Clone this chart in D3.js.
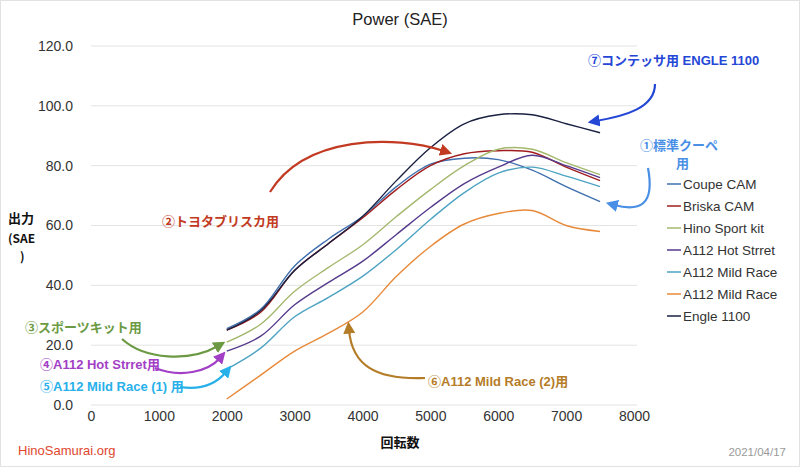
<!DOCTYPE html>
<html><head><meta charset="utf-8">
<script src="https://cdn.jsdelivr.net/npm/d3@7"></script>
<style>body{margin:0;background:#fff}svg{display:block}</style>
</head><body><svg id="c" width="800" height="467"></svg>
<script>
const rpm = [2000, 2500, 3000, 3500, 4000, 4500, 5000, 5500, 6000, 6500, 7000, 7500];
const seriesNames = ["Coupe CAM","Briska CAM","Hino Sport kit","A112 Hot Strret","A112 Mild Race","A112 Mild Race","Engle 1100"];
const coupeCam   = [25.5, 32, 46.5, 55.5, 63, 73, 80.5, 82.5, 82, 78.5, 73, 68];
const briskaCam  = [25, 31, 45, 54, 62.5, 72, 80, 84, 85, 84.5, 79.5, 75];
const hinoSport  = [21, 27, 38, 46, 53.5, 63, 72, 80, 85.5, 85.5, 81, 77];
const a112Hot    = [18, 23, 33.5, 41, 48, 57, 66, 74, 79.5, 83.5, 80, 76];
const a112Mild1  = [12, 19, 29.5, 36, 43, 52, 62, 71, 77.5, 79.5, 76.5, 73];
const a112Mild2  = [2, 10, 18, 24, 31, 43, 53, 60.5, 64, 65, 60, 58];
const engle1100  = [25, 31.5, 45, 54, 63, 75, 86, 94, 97, 97, 94, 91];
const seriesValues = [coupeCam, briskaCam, hinoSport, a112Hot, a112Mild1, a112Mild2, engle1100];
const colors = ["#3f6fae","#a11d1d","#a4b86e","#553a8c","#4da3c2","#e8893a","#1a2040"];
const yTicks = [0,20,40,60,80,100,120];
const xTicks = [0,1000,2000,3000,4000,5000,6000,7000,8000];

const svg = d3.select("#c");
const x = d3.scaleLinear().domain([0,8000]).range([91,634]);
const y = d3.scaleLinear().domain([0,120]).range([405,46]);
const font = "'Helvetica Neue', 'Liberation Sans', Arial, sans-serif";
const cond = "'Liberation Sans Narrow', 'Arial Narrow', 'Liberation Sans', 'Noto Sans CJK JP', sans-serif";

svg.append("rect").attr("x",0.5).attr("y",0.5).attr("width",799).attr("height",466)
  .attr("fill","#fff").attr("stroke","#e2e2e2");

// grid
svg.append("g").selectAll("line").data(yTicks).join("line")
  .attr("x1",91).attr("x2",637).attr("y1",d=>y(d)).attr("y2",d=>y(d))
  .attr("stroke","#e3e3e3").attr("stroke-width",1);

// y axis labels
const yAxis = d3.axisLeft(y).tickValues(yTicks).tickFormat(d3.format(".1f")).tickSize(0).tickPadding(0);
const gy = svg.append("g").attr("transform","translate(73,0)").call(yAxis);
gy.select(".domain").remove();
gy.selectAll("text").attr("font-family",font).attr("font-size",14).attr("fill","#333");

const xAxis = d3.axisBottom(x).tickValues(xTicks).tickFormat(d3.format("d")).tickSize(0).tickPadding(0);
const gx = svg.append("g").attr("transform","translate(0,411)").call(xAxis);
gx.select(".domain").remove();
gx.selectAll("text").attr("font-family",font).attr("font-size",14).attr("fill","#333");

// title
svg.append("text").attr("x",400).attr("y",25).attr("text-anchor","middle")
  .attr("font-family",font).attr("font-size",16.5).attr("fill","#222").text("Power (SAE)");
svg.append("text").attr("x",400).attr("y",447).attr("text-anchor","middle")
  .attr("font-family","'Noto Sans CJK JP', sans-serif").attr("font-weight","bold").attr("font-size",13).attr("fill","#111").text("回転数");
const yt = svg.append("g").attr("font-family","'Noto Sans CJK JP', sans-serif").attr("font-weight","bold").attr("font-size",13).attr("fill","#111");
yt.append("text").attr("x",8).attr("y",223).text("出力");
yt.append("text").attr("x",8).attr("y",243).attr("font-size",12).text("(SAE");
yt.append("text").attr("x",20).attr("y",261).attr("font-size",12).text(")");

// lines
const line = d3.line().x((d,i)=>x(rpm[i])).y(d=>y(d)).curve(d3.curveCatmullRom.alpha(0.5));
svg.append("g").selectAll("path").data(seriesValues).join("path")
  .attr("d",d=>line(d)).attr("fill","none").attr("stroke",(d,i)=>colors[i]).attr("stroke-width",1.4);

// legend
const lg = svg.append("g").selectAll("g").data(seriesNames).join("g")
  .attr("transform",(d,i)=>`translate(667,${184+i*22})`);
lg.append("line").attr("x1",0).attr("x2",14).attr("stroke",(d,i)=>colors[i]).attr("stroke-width",1.5);
lg.append("text").attr("x",16).attr("y",5).attr("font-family",font).attr("font-size",13.5).attr("fill","#333").text(d=>d);

// footer
svg.append("text").attr("x",18).attr("y",455).attr("font-family",cond).attr("font-size",13).attr("fill","#e0462e").text("HinoSamurai.org");
svg.append("text").attr("x",786).attr("y",456).attr("text-anchor","end").attr("font-family",cond).attr("font-size",11.5).attr("fill","#9a9a9a").text("2021/04/17");

// annotations
const defs = svg.append("defs");
const annots = [
  {t:"⑦コンテッサ用 ENGLE 1100", x:588, y:65, c:"#2447d6", p:"M655,84 C655,108 625,116 596,121"},
  {t:"①標準クーペ", x:640, y:150, c:"#4a8fe6", p:"M648,168 C655,205 640,212 614,205"},
  {t:"②トヨタブリスカ用", x:162, y:226, c:"#c23a22", p:"M270,192 C305,135 395,135 444,151"},
  {t:"③スポーツキット用", x:25, y:332, c:"#6c9a44", p:"M122,339 C145,360 190,362 218,346"},
  {t:"④A112 Hot Strret用", x:40, y:369, c:"#a33fc6", p:"M155,368 C180,378 208,372 220,358"},
  {t:"⑤A112 Mild Race (1) 用", x:40, y:391, c:"#27b0ea", p:"M180,387 C200,390 216,384 226,372"},
  {t:"⑥A112 Mild Race (2)用", x:428, y:386, c:"#b57c28", p:"M425,378 C375,380 352,365 349,330"}
];
annots.forEach((a,i)=>{
  defs.append("marker").attr("id","m"+i).attr("viewBox","0 0 10 10").attr("refX",3).attr("refY",5)
    .attr("markerWidth",5.5).attr("markerHeight",5.5).attr("orient","auto").attr("markerUnits","strokeWidth")
    .append("path").attr("d","M0,0 L10,5 L0,10 Z").attr("fill",a.c);
  svg.append("path").attr("d",a.p).attr("fill","none").attr("stroke",a.c).attr("stroke-width",2.2)
    .attr("marker-end",`url(#m${i})`);
  svg.append("text").attr("x",a.x).attr("y",a.y).attr("font-family",cond).attr("font-weight","bold")
    .attr("font-size",13).attr("fill",a.c).text(a.t);
});
svg.append("text").attr("x",676).attr("y",168).attr("font-family",cond).attr("font-weight","bold")
  .attr("font-size",13).attr("fill","#4a8fe6").text("用");
</script></body></html>
